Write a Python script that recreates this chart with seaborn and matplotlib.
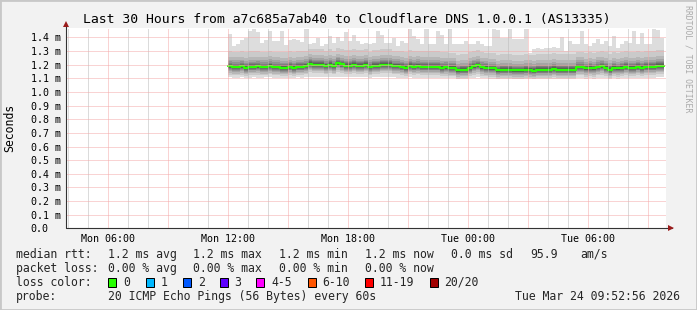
import numpy as np
import pandas as pd
import matplotlib
matplotlib.use("Agg")
import matplotlib.pyplot as plt
import seaborn as sns
from matplotlib.patches import Rectangle

# ---------------- data ----------------
TITLE = "Last 30 Hours from a7c685a7ab40 to Cloudflare DNS 1.0.0.1 (AS13335)"
Y_LABEL = "Seconds"
CREDIT = "RRDTOOL / TOBI OETIKER"

# time axis: hours since Mon 00:00
view_start_h = 3 + 52.93 / 60.0      # Mon 03:52:56
view_len_h = 30.0
data_start_h = 12.0                   # Mon 12:00
bin_h = 0.2                           # 12 minute steps

median_ms = [
    1.188, 1.183, 1.183, 1.188, 1.178, 1.186, 1.186, 1.188, 1.183, 1.183,
    1.190, 1.183, 1.183, 1.178, 1.178, 1.186, 1.178, 1.186, 1.186, 1.190,
    1.207, 1.200, 1.200, 1.200, 1.190, 1.200, 1.190, 1.210, 1.202, 1.193,
    1.193, 1.200, 1.193, 1.193, 1.200, 1.183, 1.193, 1.193, 1.200, 1.200,
    1.200, 1.190, 1.190, 1.186, 1.178, 1.193, 1.186, 1.190, 1.186, 1.186,
    1.186, 1.186, 1.186, 1.178, 1.181, 1.176, 1.176, 1.159, 1.164, 1.164,
    1.178, 1.188, 1.195, 1.181, 1.176, 1.173, 1.173, 1.159, 1.164, 1.164,
    1.164, 1.159, 1.159, 1.159, 1.164, 1.161, 1.157, 1.164, 1.164, 1.164,
    1.164, 1.171, 1.164, 1.164, 1.164, 1.164, 1.164, 1.183, 1.183, 1.173,
    1.178, 1.173, 1.183, 1.188, 1.178, 1.164, 1.178, 1.173, 1.178, 1.186,
    1.178, 1.178, 1.186, 1.178, 1.186, 1.186, 1.186, 1.193, 1.193,
]
max_ms = [
    1.427, 1.337, 1.349, 1.378, 1.398, 1.446, 1.463, 1.441, 1.361, 1.378,
    1.446, 1.373, 1.373, 1.446, 1.345, 1.378, 1.386, 1.378, 1.369, 1.463,
    1.354, 1.361, 1.393, 1.337, 1.354, 1.410, 1.361, 1.402, 1.373, 1.441,
    1.373, 1.422, 1.373, 1.354, 1.361, 1.349, 1.361, 1.446, 1.422, 1.361,
    1.361, 1.398, 1.337, 1.373, 1.361, 1.463, 1.410, 1.386, 1.354, 1.463,
    1.354, 1.354, 1.446, 1.422, 1.349, 1.463, 1.354, 1.354, 1.354, 1.373,
    1.349, 1.354, 1.373, 1.349, 1.337, 1.337, 1.463, 1.458, 1.398, 1.398,
    1.463, 1.386, 1.386, 1.386, 1.463, 1.289, 1.313, 1.320, 1.313, 1.325,
    1.325, 1.330, 1.325, 1.402, 1.301, 1.373, 1.354, 1.354, 1.446, 1.349,
    1.337, 1.361, 1.386, 1.354, 1.373, 1.337, 1.410, 1.325, 1.349, 1.373,
    1.361, 1.446, 1.354, 1.434, 1.349, 1.349, 1.463, 1.458, 1.398,
]
min_ms = [
    1.108, 1.106, 1.104, 1.108, 1.103, 1.106, 1.108, 1.105, 1.104, 1.107,
    1.108, 1.105, 1.106, 1.103, 1.102, 1.106, 1.104, 1.107, 1.106, 1.108,
    1.112, 1.110, 1.109, 1.110, 1.107, 1.110, 1.108, 1.112, 1.110, 1.108,
    1.107, 1.109, 1.108, 1.107, 1.110, 1.104, 1.107, 1.108, 1.109, 1.110,
    1.108, 1.107, 1.106, 1.105, 1.103, 1.107, 1.105, 1.106, 1.105, 1.104,
    1.105, 1.104, 1.105, 1.102, 1.103, 1.101, 1.100, 1.096, 1.098, 1.097,
    1.102, 1.105, 1.107, 1.102, 1.100, 1.099, 1.099, 1.095, 1.097, 1.096,
    1.097, 1.095, 1.096, 1.095, 1.097, 1.096, 1.094, 1.097, 1.096, 1.097,
    1.097, 1.099, 1.097, 1.096, 1.097, 1.096, 1.097, 1.103, 1.102, 1.099,
    1.101, 1.099, 1.102, 1.104, 1.101, 1.097, 1.101, 1.099, 1.101, 1.104,
    1.101, 1.102, 1.104, 1.101, 1.104, 1.104, 1.105, 1.107, 1.108,
]
# typical spread of the sorted pings around the median (read from the smoke)
upper_offsets_ms = [0.003, 0.007, 0.012, 0.018, 0.026, 0.036, 0.050, 0.072, 0.112]  # pings 11..19
lower_offsets_ms = [0.003, 0.006, 0.010, 0.015, 0.021, 0.028, 0.037, 0.048, 0.060]  # pings 10..2

major_tick_hours = [6, 9, 12, 15, 18, 21, 24, 27, 30, 33]
major_tick_labels = ["Mon 06:00", "", "Mon 12:00", "", "Mon 18:00", "",
                     "Tue 00:00", "", "Tue 06:00", ""]
minor_tick_hours = list(range(4, 34))
ytick_values = [0.0, 0.1, 0.2, 0.3, 0.4, 0.5, 0.6, 0.7, 0.8, 0.9, 1.0, 1.1, 1.2, 1.3, 1.4]
ytick_labels = ["0.0", "0.1 m", "0.2 m", "0.3 m", "0.4 m", "0.5 m", "0.6 m", "0.7 m",
                "0.8 m", "0.9 m", "1.0 m", "1.1 m", "1.2 m", "1.3 m", "1.4 m"]

rtt_row = ["median rtt:", "1.2 ms avg", "1.2 ms max", "1.2 ms min", "1.2 ms now",
           "0.0 ms sd", "95.9", "am/s"]
loss_row = ["packet loss:", "0.00 % avg", "0.00 % max", "0.00 % min", "0.00 % now"]
loss_labels = ["0", "1", "2", "3", "4-5", "6-10", "11-19", "20/20"]
loss_colors = ["#26ff00", "#00b8ff", "#0059ff", "#5e00ff", "#ff00ff", "#ff5500", "#ff0000", "#a10000"]
probe_text = "20 ICMP Echo Pings (56 Bytes) every 60s"
stamp_text = "Tue Mar 24 09:52:56 2026"

# ---------------- layout (pixels) ----------------
W, H = 697, 310
PL, PR, PT, PB = 66, 666, 28.3, 228.3
YMAX = 1.4675

rtt_x = [16, 107.6, 193.3, 279, 365, 451, 530, 580]
loss_x = [16, 107.6, 193.3, 279, 365]
box_x = [108.4, 145.8, 182.7, 219.6, 256.4, 307.6, 365.3, 429.8]
box_label_x = [123.6, 161, 197.8, 234, 271, 322, 380, 444.4]
rows_y = [254.3, 268.3, 282.3, 296.3]

def fx(px):
    return px / W

def fy(py):
    return 1 - py / H

sns.set_style("white")
plt.rcParams["font.family"] = ["DejaVu Sans Mono", "DejaVu Sans"]

fig = plt.figure(figsize=(W / 100, H / 100), dpi=100, facecolor="#f2f2f2")
ax = fig.add_axes([fx(PL), fy(PB), fx(PR - PL), (PB - PT) / H])
ax.set_facecolor("white")

n = len(median_ms)
med = np.array(median_ms)
mx = np.array(max_ms)
mn = np.array(min_ms)
pings = np.empty((20, n))
pings[0] = mn
pings[19] = mx
for j, off in enumerate(lower_offsets_ms):
    pings[9 - j] = np.maximum(med - off, mn)
for j, off in enumerate(upper_offsets_ms):
    pings[10 + j] = np.minimum(med + off, mx)

edges = data_start_h + bin_h * np.arange(n + 1)

def ext(a):
    return np.append(a, a[-1])

half = 10
for ibot in range(1, half + 1):
    itop = 21 - ibot
    c = int(190 / half * (half - ibot)) + 50
    col = "#%02x%02x%02x" % (c, c, c)
    ax.fill_between(edges, ext(pings[ibot - 1]), ext(pings[itop - 1]),
                    step="post", color=col, linewidth=0, zorder=1, antialiased=False)

df = pd.DataFrame({"t": edges, "median": ext(med)})
sns.lineplot(data=df, x="t", y="median", ax=ax, color="#26ff00", linewidth=1.6,
             drawstyle="steps-post", zorder=2, estimator=None, sort=False)

ax.set_xlim(view_start_h, view_start_h + view_len_h)
ax.set_ylim(0, YMAX)
ax.set_xlabel("")
ax.set_ylabel("")

ax.set_xticks(major_tick_hours)
ax.set_xticklabels(major_tick_labels, fontsize=7.2, color="#000000")
ax.set_xticks(minor_tick_hours, minor=True)
ax.set_yticks(ytick_values)
ax.set_yticklabels(ytick_labels, fontsize=7.2, ha="left", color="#000000")

ax.tick_params(axis="x", which="major", direction="out", length=2.2, width=0.72,
               color="#444444", pad=1.8)
ax.tick_params(axis="x", which="minor", length=0)
ax.tick_params(axis="y", which="major", direction="out", length=1.6, width=0.72,
               color="#444444", pad=23.8)

dot = (0, (1, 1))
ax.grid(True, which="minor", axis="x", color="#b8b8b8", linestyle=dot, linewidth=0.72)
ax.grid(True, which="major", axis="x", color="#f5a8a8", linestyle=dot, linewidth=0.72)
ax.grid(True, which="major", axis="y", color="#f5a8a8", linestyle=dot, linewidth=0.72)
ax.set_axisbelow(False)

for s in ["top", "right", "left", "bottom"]:
    ax.spines[s].set_visible(False)

# axes with arrows, rrdtool style
axis_col = "#333333"
arrow_col = "#9b1c1c"
ax.plot([0, 0], [0, 1 + 5.0 / (PB - PT)], transform=ax.transAxes, color=axis_col,
        lw=0.8, clip_on=False, zorder=5)
ax.plot([0, 1 + 6.0 / (PR - PL)], [0, 0], transform=ax.transAxes, color=axis_col,
        lw=0.8, clip_on=False, zorder=5)
ax.plot([0], [1 + 4.5 / (PB - PT)], marker="^", ms=4.2, color=arrow_col,
        transform=ax.transAxes, clip_on=False, zorder=6, mew=0)
ax.plot([1 + 5.0 / (PR - PL)], [0], marker=">", ms=4.2, color=arrow_col,
        transform=ax.transAxes, clip_on=False, zorder=6, mew=0)

# texts
fig.text(fx(347), fy(19), TITLE, ha="center", va="center", fontsize=9.45, color="#000000")
fig.text(fx(10), fy((PT + PB) / 2), Y_LABEL, ha="center", va="center", rotation=90,
         fontsize=8.3, color="#000000")
fig.text(fx(688), fy(59), CREDIT, ha="center", va="center", rotation=270,
         fontsize=5.9, color="#aaaaaa")

for txt, x in zip(rtt_row, rtt_x):
    fig.text(fx(x), fy(rows_y[0]), txt, ha="left", va="center", fontsize=8.3)
for txt, x in zip(loss_row, loss_x):
    fig.text(fx(x), fy(rows_y[1]), txt, ha="left", va="center", fontsize=8.3)
fig.text(fx(16), fy(rows_y[2]), "loss color:", ha="left", va="center", fontsize=8.3)
for lab, colr, bx, lx in zip(loss_labels, loss_colors, box_x, box_label_x):
    fig.patches.append(Rectangle((fx(bx), fy(rows_y[2] + 4.5)), 8 / W, 9 / H,
                                 transform=fig.transFigure, facecolor=colr,
                                 edgecolor="#000000", linewidth=0.72))
    fig.text(fx(lx), fy(rows_y[2]), lab, ha="left", va="center", fontsize=8.3)
fig.text(fx(16), fy(rows_y[3]), "probe:", ha="left", va="center", fontsize=8.3)
fig.text(fx(107.6), fy(rows_y[3]), probe_text, ha="left", va="center", fontsize=8.3)
fig.text(fx(680), fy(rows_y[3]), stamp_text, ha="right", va="center", fontsize=8.3)

# frame
fig.patches.append(Rectangle((0, 0), 1, 1, transform=fig.transFigure, facecolor="none",
                             edgecolor="#c8c8c8", linewidth=2.0))

fig.savefig("out.png", dpi=100, facecolor=fig.get_facecolor())
